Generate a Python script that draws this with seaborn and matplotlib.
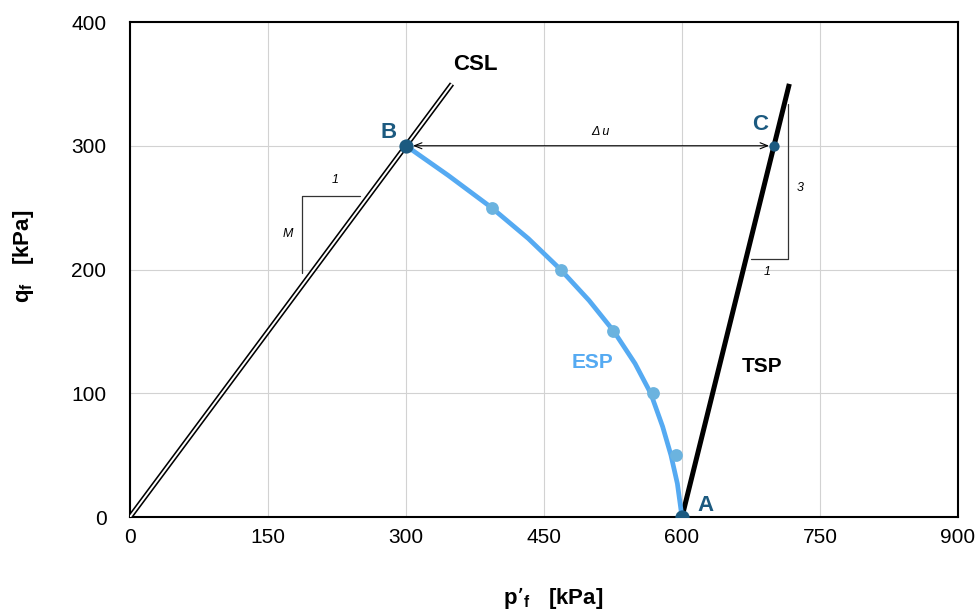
import matplotlib
matplotlib.use("Agg")
import matplotlib.pyplot as plt
import seaborn as sns

# Critical state line q = M p' (M = 1)
csl_p = [0, 350]
csl_q = [0, 350]

# Total stress path from A, slope 3:1
tsp_p = [600, 716.7]
tsp_q = [0, 350]

# Effective stress path (undrained) from A to B
esp_curve_p = [300, 346, 393, 433, 468, 499, 526, 549, 566, 579, 588, 595, 600]
esp_curve_q = [300, 276, 250, 225, 200, 175, 150, 124, 100, 73, 50, 27, 0]

# Intermediate points on the effective stress path
esp_pts_p = [393, 468, 525, 568, 593]
esp_pts_q = [250, 200, 150, 100, 50]

# Key states: A (start), B (failure on CSL), C (total stress at failure)
key_names = ["A", "B", "C"]
key_p = [600, 300, 700]
key_q = [0, 300, 300]

x_ticks = [0, 150, 300, 450, 600, 750, 900]
y_ticks = [0, 100, 200, 300, 400]

sns.set_theme(style="white")
plt.rcParams["font.family"] = ["Liberation Sans", "DejaVu Sans"]
plt.rcParams["mathtext.default"] = "regular"
for key in ("text.color", "axes.labelcolor", "xtick.color", "ytick.color"):
    plt.rcParams[key] = "black"

DARK = "#1C5A80"
ESP_LINE = "#55AAF2"
ESP_DOT = "#6BB3DF"

fig, ax = plt.subplots(figsize=(9.79, 6.13), dpi=100)
fig.subplots_adjust(left=0.1328, right=0.9785, bottom=0.1566, top=0.9641)

# Critical state line drawn as a double line
sns.lineplot(x=csl_p, y=csl_q, ax=ax, color="black", lw=3.7, sort=False,
             solid_capstyle="butt", zorder=3)
sns.lineplot(x=csl_p, y=csl_q, ax=ax, color="white", lw=1.4, sort=False,
             solid_capstyle="butt", zorder=3.1)

# Total stress path
sns.lineplot(x=tsp_p, y=tsp_q, ax=ax, color="black", lw=3.6, sort=False,
             solid_capstyle="butt", zorder=3)

# Effective stress path
sns.lineplot(x=esp_curve_p, y=esp_curve_q, ax=ax, color=ESP_LINE, lw=3.4,
             sort=False, solid_joinstyle="round", zorder=4)
sns.scatterplot(x=esp_pts_p, y=esp_pts_q, ax=ax, color=ESP_DOT, s=85,
                linewidth=0, zorder=5)

# Key states
sns.scatterplot(x=key_p[:2], y=key_q[:2], ax=ax, color=DARK, s=105,
                linewidth=0, zorder=6)
sns.scatterplot(x=key_p[2:], y=key_q[2:], ax=ax, color=DARK, s=55,
                linewidth=0, zorder=6)

# Excess pore pressure between B and C
ax.annotate("", xy=(key_p[1], key_q[1]), xytext=(key_p[2], key_q[2]),
            arrowprops=dict(arrowstyle="<->,head_length=0.45,head_width=0.18",
                            lw=0.8, color="black", shrinkA=3.5, shrinkB=5),
            zorder=5)
ax.text(511, 311, "Δ u", fontsize=9, style="italic", ha="center", va="center")

# Slope triangle on the CSL
tri_c = dict(color="#333333", lw=0.9, zorder=2.5)
ax.plot([187.5, 187.5, 250], [197, 259, 259], **tri_c)
ax.text(223, 272, "1", fontsize=9, style="italic", ha="center", va="center")
ax.text(172, 229, "M", fontsize=9, style="italic", ha="center", va="center")

# Slope triangle on the TSP
ax.plot([675, 715, 715], [208.5, 208.5, 334], **tri_c)
ax.text(728, 266, "3", fontsize=9, style="italic", ha="center", va="center")
ax.text(693, 198, "1", fontsize=9, style="italic", ha="center", va="center")

# Labels
ax.text(375, 366, "CSL", fontsize=16, fontweight="bold", ha="center", va="center")
ax.text(503, 125, "ESP", fontsize=15, fontweight="bold", color=ESP_LINE,
        ha="center", va="center")
ax.text(687, 122, "TSP", fontsize=15, fontweight="bold", ha="center", va="center")
label_pos = {"A": (626, 9), "B": (281, 311), "C": (685, 317)}
for name in key_names:
    lx, ly = label_pos[name]
    ax.text(lx, ly, name, fontsize=16, fontweight="bold", color=DARK,
            ha="center", va="center", zorder=7)

ax.set_xlim(0, 900)
ax.set_ylim(0, 400)
ax.set_xticks(x_ticks)
ax.set_yticks(y_ticks)
ax.set_xticklabels([str(v) for v in x_ticks])
ax.set_yticklabels([str(v) for v in y_ticks])
ax.tick_params(axis="both", length=0, labelsize=15, colors="black")
ax.tick_params(axis="x", pad=8)
ax.tick_params(axis="y", pad=17)

ax.grid(True, color="#D2D2D2", lw=0.8, zorder=0)
ax.set_axisbelow(True)
for sp in ax.spines.values():
    sp.set_color("black")
    sp.set_linewidth(1.5)
    sp.set_visible(True)

ax.set_xlabel("p’$_{f}$   [kPa]", fontsize=16, fontweight="bold", va="center")
ax.set_ylabel("q$_{f}$   [kPa]", fontsize=16, fontweight="bold", va="center")
ax.xaxis.set_label_coords(0.511, -0.164)
ax.yaxis.set_label_coords(-0.129, 0.527)

fig.savefig("out.png", dpi=100)
